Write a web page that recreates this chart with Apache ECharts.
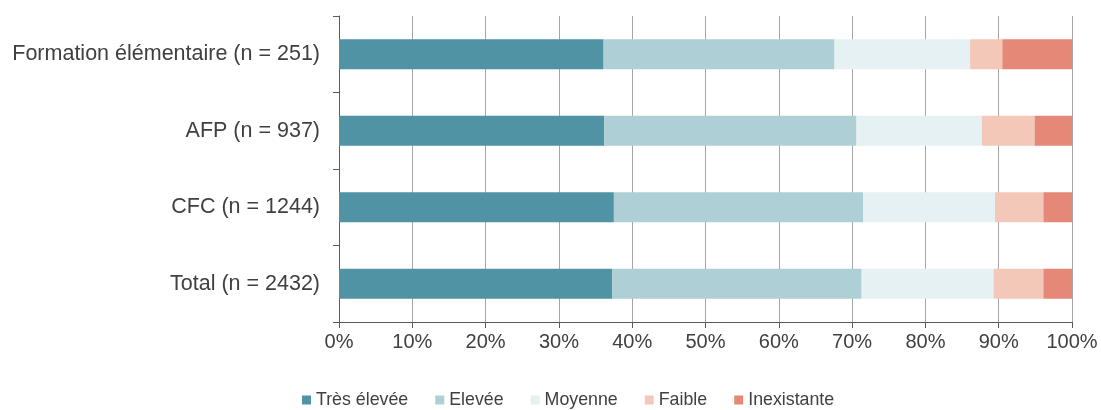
<!DOCTYPE html>
<html><head><meta charset="utf-8">
<script src="https://cdn.jsdelivr.net/npm/echarts@6/dist/echarts.min.js"></script>
<style>html,body{margin:0;padding:0;background:#fff}#c{width:1101px;height:410px}</style>
</head><body><div id="c"></div>
<script>
const categories = ["Formation élémentaire (n = 251)", "AFP (n = 937)", "CFC (n = 1244)", "Total (n = 2432)"];
const seriesNames = ["Très élevée", "Elevée", "Moyenne", "Faible", "Inexistante"];
const tresElevee = [36.1, 36.2, 37.5, 37.3];
const elevee = [31.5, 34.4, 34.0, 34.0];
const moyenne = [18.5, 17.1, 18.0, 18.0];
const faible = [4.4, 7.2, 6.6, 6.8];
const inexistante = [9.5, 5.1, 3.9, 3.9];
const colors = ["#4F93A4", "#ADCFD5", "#E6F1F3", "#F4C8B9", "#E58877"];
const xTicks = [0, 10, 20, 30, 40, 50, 60, 70, 80, 90, 100];

const values = [tresElevee, elevee, moyenne, faible, inexistante];
const chart = echarts.init(document.getElementById('c'), null, {renderer: 'canvas'});
const font = "'Liberation Sans', Arial, sans-serif";
chart.setOption({
  animation: false,
  textStyle: {fontFamily: font},
  grid: {left: 339, right: 29, top: 16, bottom: 88, containLabel: false},
  legend: {
    left: 297, top: 386,
    itemWidth: 9, itemHeight: 9, itemGap: 27,
    textStyle: {fontSize: 17.8, color: '#404040', fontFamily: font},
    icon: 'rect',
    data: seriesNames
  },
  xAxis: {
    type: 'value', min: xTicks[0], max: xTicks[xTicks.length - 1], interval: 10,
    axisLine: {show: true, lineStyle: {color: '#595959', width: 1}},
    axisTick: {show: true, length: 6, lineStyle: {color: '#595959'}},
    splitLine: {show: true, lineStyle: {color: '#A6A6A6', width: 1}},
    axisLabel: {formatter: '{value}%', fontSize: 20, color: '#404040', margin: 10, fontFamily: font}
  },
  yAxis: {
    type: 'category', data: categories, inverse: true,
    axisLine: {show: true, lineStyle: {color: '#595959', width: 1}},
    axisTick: {show: true, length: 6, lineStyle: {color: '#595959'}},
    axisLabel: {fontSize: 21.5, color: '#404040', margin: 19, fontFamily: font}
  },
  series: seriesNames.map((n, i) => ({
    name: n, type: 'bar', stack: 'total', data: values[i],
    barWidth: 30,
    itemStyle: {color: colors[i]},
    emphasis: {disabled: true}
  }))
});
</script></body></html>
